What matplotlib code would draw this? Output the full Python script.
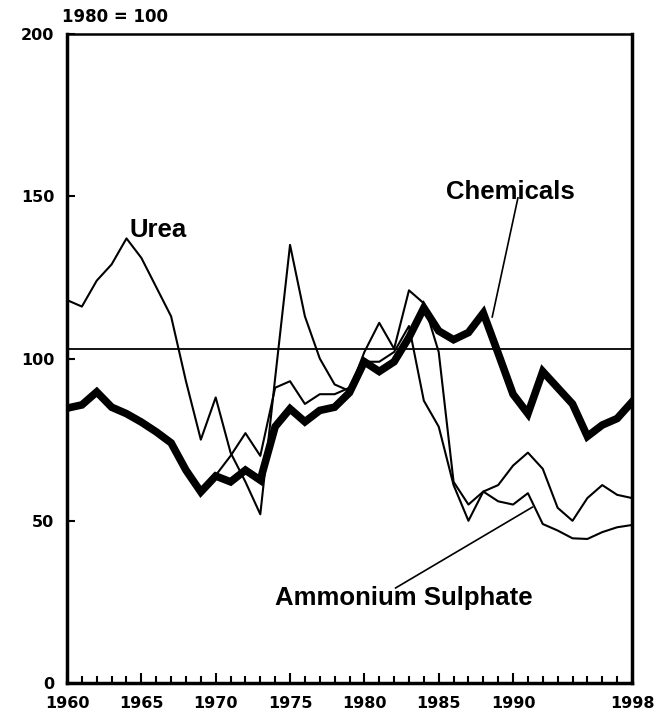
import matplotlib.pyplot as plt
import numpy as np

plt.rcParams['font.family'] = ['Liberation Sans', 'DejaVu Sans']
plt.rcParams['font.weight'] = 'bold'

# index values, 1980 = 100
years = np.arange(1960, 1999)

chemicals = [84.7, 85.7, 89.7, 85, 83, 80.4, 77.4, 74, 65.6, 58.9,
             63.8, 62, 65.6, 62.5, 79, 84.5, 80.5, 84, 85, 89.5,
             99, 96, 99, 106.5, 115.6, 108.5, 105.8, 108, 114, 101.6,
             89, 83, 96, 91, 86, 76, 79.5, 81.5, 86.6]

urea = [118, 116, 124, 129, 137, 131, 122, 113, 93, 75,
        88, 71, 62, 52, 94, 135, 113, 100, 92, 90,
        102, 111, 103, 121, 117, 102, 62, 55, 59, 61,
        67, 71, 66, 54, 50, 57, 61, 58, 57]

# ammonium sulphate series starts in 1970
amsul_years = np.arange(1970, 1999)
amsul = [64, 70, 77, 70, 91, 93, 86, 89, 89, 91,
         99, 99, 102, 110, 87, 79, 61, 50, 59, 56,
         55, 58.5, 49, 47, 44.6, 44.4, 46.5, 48, 48.7]

ref_level = 103

xtick_labels = ['1960', '1965', '1970', '1975', '1980', '1985', '1990', '1998']
xtick_pos = [1960, 1965, 1970, 1975, 1980, 1985, 1990, 1998]

fig = plt.figure(figsize=(6.59, 7.16), dpi=100)
ax = fig.add_axes([0.1017, 0.046, 0.8573, 0.9066])

ax.plot(years, urea, color='black', lw=1.5)
ax.plot(amsul_years, amsul, color='black', lw=1.5)
ax.plot(years, chemicals, color='black', lw=5.5, solid_joinstyle='miter')
ax.axhline(ref_level, color='black', lw=1.3)

ax.set_xlim(1960, 1998)
ax.set_ylim(0, 200)

ax.set_yticks([0, 50, 100, 150, 200])
ax.set_xticks(xtick_pos)
ax.set_xticklabels(xtick_labels)
ax.set_xticks(np.arange(1960, 1999), minor=True)
ax.tick_params(axis='y', direction='in', length=6, width=1.5, pad=9)
ax.tick_params(axis='x', which='major', direction='in', length=7, width=1.5, pad=9)
ax.tick_params(axis='x', which='minor', direction='in', length=5, width=1.5)
for lab in ax.get_xticklabels() + ax.get_yticklabels():
    lab.set_fontweight('bold')
    lab.set_fontfamily('DejaVu Sans')
    lab.set_fontsize(11.5)

for side in ['left', 'right', 'bottom']:
    ax.spines[side].set_linewidth(2.5)
ax.spines['top'].set_linewidth(1.8)

fig.text(0.094, 0.976, '1980 = 100', fontsize=12, fontweight='bold',
         family='DejaVu Sans', va='center', ha='left')

ax.text(1964.2, 139.6, 'Urea', fontsize=18.5, fontweight='bold', va='center', ha='left')
ax.text(1985.5, 151.3, 'Chemicals', fontsize=18.5, fontweight='bold', va='center', ha='left')
ax.plot([1990.33, 1988.6], [149.5, 112.8], color='black', lw=1.2)
ax.text(1974.0, 26.2, 'Ammonium Sulphate', fontsize=18.5, fontweight='bold', va='center', ha='left')
ax.plot([1982.1, 1991.3], [29.3, 54.2], color='black', lw=1.2)

fig.savefig('out.png', dpi=100)
